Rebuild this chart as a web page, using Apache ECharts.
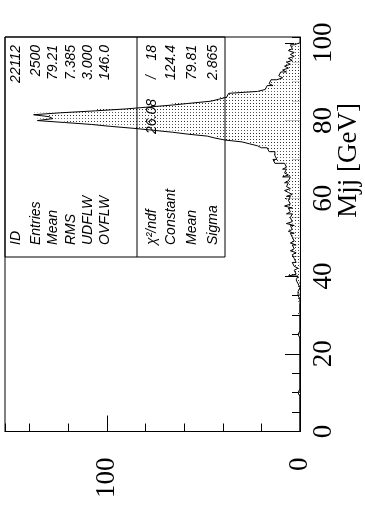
<!DOCTYPE html>
<html><head><meta charset="utf-8">
<script src="https://cdn.jsdelivr.net/npm/echarts@6/dist/echarts.min.js"></script>
<style>html,body{margin:0;padding:0;background:#fff}#c{width:365px;height:518px}</style>
</head><body><div id="c"></div><script>
// Histogram: Mjj [GeV], 200 bins of 0.5 GeV from 0 to 100
const binWidth = 0.5;
const mjjRange = [0, 100];
const counts = [
  0,0,0,0,0,0,0,0,0,0, 0,0,0,0,0,0,0,0,0,1,
  0,0,0,0,0,0,0,0,0,0, 0,0,0,0,0,0,0,0,0,0,
  0,0,0,0,0,0,0,0,0,1, 0,0,0,0,0,0,0,0,0,0,
  1,0,0,0,0,0,1,0,1,1, 0,1,2,0,1,1,0,2,1,1,
  6,2,3,2,1,3,4,2,3,2, 4,3,2,5,3,4,2,5,3,4,
  4,5,3,6,4,5,3,7,4,5, 6,4,7,5,6,4,8,5,6,7,
  5,7,4,6,8,5,7,6,8,6,5,9,6,8,7,9,
  7,8,13,14,12,13,14,13,16,17,
  20,22,26,30,39,44,48,58,66,76,86,98,108,122,136,128,130,138,124,106,90,78,66,56,46,42,38,37,36,22,
  18,17,14,16,15,12,9,11,10,7,9,6,8,5,7,4,6,3,5,3,6,4,5,3
];
const countAxisMax = 152.8;
const mjjAxisMax = 101.5;
const countTickLabels = [0, 100];
const mjjTickLabels = [0, 20, 40, 60, 80, 100];
const statLabels1 = ['ID', 'Entries', 'Mean', 'RMS', 'UDFLW', 'OVFLW'];
const statValues1 = ['22112', '2500', '79.21', '7.385', '3.000', '146.0'];
const statLabels2 = ['\u03c7\u00b2/ndf', 'Constant', 'Mean', 'Sigma'];
const statValues2 = ['18', '124.4', '79.81', '2.865'];
const chi2Value = '26.08';
const axisTitle = 'Mjj [GeV]';

// stipple pattern for histogram fill
const pc = document.createElement('canvas');
pc.width = 3; pc.height = 3;
const pctx = pc.getContext('2d');
pctx.fillStyle = '#ffffff'; pctx.fillRect(0, 0, 3, 3);
pctx.fillStyle = '#333333'; pctx.fillRect(1, 1, 1, 1);
const stipple = { image: pc, repeat: 'repeat' };

const bins = counts.map((c, i) => [mjjRange[0] + i * binWidth, mjjRange[0] + (i + 1) * binWidth, c]);
const outline = [[0, mjjRange[0]]];
bins.forEach(b => { outline.push([b[2], b[0]]); outline.push([b[2], b[1]]); });
outline.push([0, mjjRange[1]]);

const serif = 'Liberation Serif';
const statFont = 'italic 14px "Liberation Sans"';
const rot = Math.PI / 2;

const col1 = [16, 36, 53, 71, 88, 105];
const col2 = [152, 171, 192, 213];
const graphics = [
  { type: 'rect', z: 100, shape: { x: 5, y: 37, width: 220, height: 220 }, style: { fill: 'none', stroke: '#000', lineWidth: 1 } },
  { type: 'line', z: 100, shape: { x1: 137, y1: 37, x2: 137, y2: 257 }, style: { stroke: '#000', lineWidth: 1 } },
  { type: 'text', z: 100, x: 349, y: 103, rotation: rot, style: { text: axisTitle, font: '27px "' + serif + '"', align: 'right', verticalAlign: 'middle', fill: '#000' } },
  { type: 'text', z: 100, x: col2[0], y: 99, rotation: rot, style: { text: chi2Value, font: statFont, align: 'right', verticalAlign: 'middle', fill: '#000' } },
  { type: 'text', z: 100, x: col2[0], y: 77, rotation: rot, style: { text: '/', font: statFont, align: 'center', verticalAlign: 'middle', fill: '#000' } }
];
statLabels1.forEach((t, i) => {
  graphics.push({ type: 'text', z: 100, x: col1[i], y: 245, rotation: rot, style: { text: t, font: statFont, align: 'left', verticalAlign: 'middle', fill: '#000' } });
  graphics.push({ type: 'text', z: 100, x: col1[i], y: 45, rotation: rot, style: { text: statValues1[i], font: statFont, align: 'right', verticalAlign: 'middle', fill: '#000' } });
});
statLabels2.forEach((t, i) => {
  graphics.push({ type: 'text', z: 100, x: col2[i], y: 245, rotation: rot, style: { text: t, font: statFont, align: 'left', verticalAlign: 'middle', fill: '#000' } });
  graphics.push({ type: 'text', z: 100, x: col2[i], y: 45, rotation: rot, style: { text: statValues2[i], font: statFont, align: 'right', verticalAlign: 'middle', fill: '#000' } });
});

const black = { color: '#000', width: 1 };
const option = {
  animation: false,
  backgroundColor: '#fff',
  grid: { left: 5, right: 65, top: 37, bottom: 86.5, show: true, borderColor: '#000', borderWidth: 1, containLabel: false, outerBoundsMode: 'none' },
  xAxis: [
    { type: 'value', inverse: true, min: 0, max: countAxisMax, interval: 100, position: 'bottom',
      axisLine: { show: true, lineStyle: black }, axisTick: { show: true, inside: true, length: 16, lineStyle: black },
      axisLabel: { rotate: 90, margin: 26, fontFamily: serif, fontSize: 27, color: '#000', showMaxLabel: false,
        formatter: v => countTickLabels.includes(v) ? String(v) : '' },
      splitLine: { show: false } },
    { type: 'value', inverse: true, min: 0, max: countAxisMax, interval: 20, position: 'bottom',
      axisLine: { show: false }, axisTick: { show: true, inside: true, length: 8, lineStyle: black },
      axisLabel: { show: false }, splitLine: { show: false } }
  ],
  yAxis: [
    { type: 'value', min: 0, max: mjjAxisMax, interval: 20, position: 'right',
      axisLine: { show: true, lineStyle: black }, axisTick: { show: true, inside: true, length: 15, lineStyle: black },
      axisLabel: { rotate: 90, margin: 10, fontFamily: serif, fontSize: 27, color: '#000', showMaxLabel: false,
        formatter: v => mjjTickLabels.includes(v) ? String(v) : '' },
      splitLine: { show: false } },
    { type: 'value', min: 0, max: mjjAxisMax, interval: 5, position: 'right',
      axisLine: { show: false }, axisTick: { show: true, inside: true, length: 8, lineStyle: black },
      axisLabel: { show: false }, splitLine: { show: false } }
  ],
  series: [
    { type: 'custom', xAxisIndex: 0, yAxisIndex: 0, clip: true, z: 2,
      data: bins, encode: { x: 2, y: [0, 1] },
      renderItem: (params, api) => {
        const lo = api.value(0), hi = api.value(1), c = api.value(2);
        if (!c) return null;
        const p0 = api.coord([0, lo]);
        const p1 = api.coord([c, hi]);
        return { type: 'rect', shape: { x: Math.min(p0[0], p1[0]), y: Math.min(p0[1], p1[1]),
          width: Math.abs(p1[0] - p0[0]), height: Math.abs(p1[1] - p0[1]) }, style: { fill: stipple, stroke: null } };
      } },
    { type: 'line', xAxisIndex: 0, yAxisIndex: 0, data: outline, showSymbol: false, symbol: 'none', z: 3,
      lineStyle: { color: '#000', width: 1 }, clip: true, silent: true }
  ],
  graphic: graphics
};
const chart = echarts.init(document.getElementById('c'), null, { renderer: 'canvas' });
chart.setOption(option);
</script></body></html>
